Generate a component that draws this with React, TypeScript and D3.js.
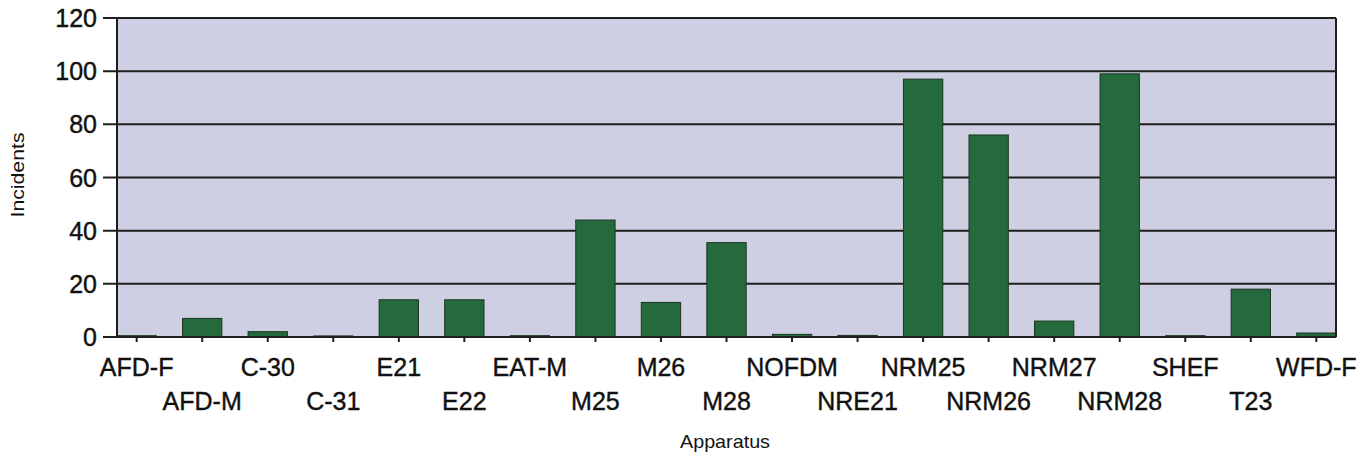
import React from "react";
import * as d3 from "d3";

const categories = [
  "AFD-F", "AFD-M", "C-30", "C-31", "E21", "E22", "EAT-M", "M25", "M26", "M28",
  "NOFDM", "NRE21", "NRM25", "NRM26", "NRM27", "NRM28", "SHEF", "T23", "WFD-F",
];
const incidents = [0.5, 7, 2, 0.4, 14, 14, 0.5, 44, 13, 35.5, 1, 0.6, 97, 76, 6, 99, 0.5, 18, 1.5];
const yTicks = [0, 20, 40, 60, 80, 100, 120];
const yLabel = "Incidents";
const xLabel = "Apparatus";

const W = 1368;
const H = 457;
const left = 117;
const right = 1336;
const top = 18;
const bottom = 337;

export default function App() {
  const x = d3.scaleBand<string>().domain(categories).range([left, right]).paddingInner(0.4).paddingOuter(0);
  const y = d3.scaleLinear().domain([0, 120]).range([bottom, top]);
  const font = "'Liberation Sans', Arial, sans-serif";
  return (
    <svg width={W} height={H} style={{ position: "absolute", left: 0, top: 0, background: "#ffffff" }} fontFamily={font}>
      <rect x={left} y={top} width={right - left} height={bottom - top} fill="#cfcfe4" />
      {yTicks.map((t) => (
        <g key={t}>
          <line x1={103} x2={right} y1={y(t)} y2={y(t)} stroke="#1e1e1e" strokeWidth={2} />
          <text x={97} y={y(t)} dy="0.36em" textAnchor="end" fontSize={25} fill="#111"
            stroke="#111" strokeWidth={0.4}>{t}</text>
        </g>
      ))}
      {categories.map((c, i) => (
        <rect key={c} x={x(c)} y={y(incidents[i])} width={x.bandwidth()} height={y(0) - y(incidents[i])}
          fill="#246a3c" stroke="#1b3522" strokeWidth={1} />
      ))}
      <line x1={left} x2={left} y1={top} y2={bottom} stroke="#1e1e1e" strokeWidth={2} />
      <line x1={right} x2={right} y1={top} y2={bottom} stroke="#1e1e1e" strokeWidth={2} />
      <line x1={left} x2={right} y1={bottom} y2={bottom} stroke="#1e1e1e" strokeWidth={2} />
      {categories.map((c, i) => {
        const cx = (x(c) as number) + x.bandwidth() / 2;
        return (
          <g key={c}>
            <line x1={cx} x2={cx} y1={bottom} y2={bottom + 5} stroke="#1e1e1e" strokeWidth={2} />
            <text x={cx} y={i % 2 === 0 ? 376 : 410} textAnchor="middle" fontSize={25} fill="#111"
              stroke="#111" strokeWidth={0.4}>{c}</text>
          </g>
        );
      })}
      <text transform={`translate(24, 175) rotate(-90)`} textAnchor="middle" fontSize={18} fill="#111"
        textLength={85} lengthAdjust="spacingAndGlyphs">{yLabel}</text>
      <text x={725} y={448} textAnchor="middle" fontSize={19} fill="#111"
        textLength={90} lengthAdjust="spacingAndGlyphs">{xLabel}</text>
    </svg>
  );
}
